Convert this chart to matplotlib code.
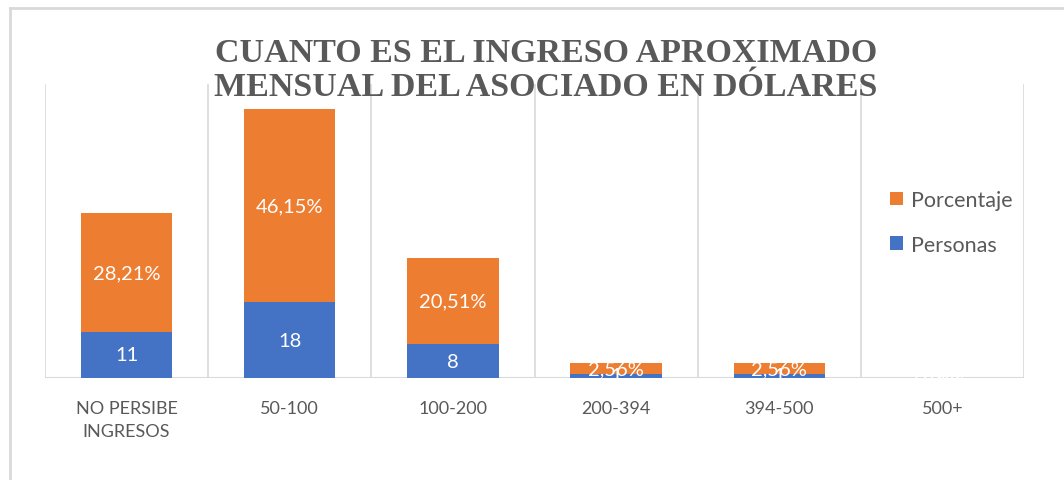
import matplotlib
matplotlib.use("Agg")
import matplotlib.pyplot as plt
from matplotlib.lines import Line2D
import numpy as np

plt.rcParams['font.family'] = ['Lato', 'DejaVu Sans']

categorias = ["NO PERSIBE\nINGRESOS", "50-100", "100-200", "200-394", "394-500", "500+"]
personas = [11, 18, 8, 1, 1, 0]
porcentaje = [28.21, 46.15, 20.51, 2.56, 2.56, 0.00]

azul = "#4472C4"
naranja = "#ED7D31"
gris = "#595959"
linea = "#D9D9D9"

fig = plt.figure(figsize=(10.64, 4.81), dpi=100)
ax = fig.add_axes([0.0423, 0.2121, 0.9201, 0.6112])

x = np.arange(len(categorias))
ax.bar(x, personas, width=0.56, color=azul, label="Personas", zorder=2)
ax.bar(x, porcentaje, width=0.56, bottom=personas, color=naranja, label="Porcentaje", zorder=2)

# etiquetas de datos
for i in range(len(x)):
    ax.text(x[i], personas[i] / 2, str(personas[i]), ha="center", va="center",
            color="white", fontsize=14.5, zorder=3)
    txt = "{:.2f}%".format(porcentaje[i]).replace(".", ",")
    ax.text(x[i], personas[i] + porcentaje[i] / 2, txt, ha="center", va="center",
            color="white", fontsize=14.5, zorder=3)

ax.set_xlim(-0.5, len(categorias) - 0.5)
ax.set_ylim(0, 70)
for xv in np.arange(-0.5, len(categorias), 1.0):
    ax.axvline(xv, color=linea, lw=1.2, zorder=1)
ax.axhline(0, color=linea, lw=1.5, zorder=1)

for s in ax.spines.values():
    s.set_visible(False)
ax.set_yticks([])
ax.set_xticks(x)
ax.set_xticklabels(categorias, fontsize=13, color=gris, linespacing=1.5)
ax.tick_params(axis="x", length=0, pad=16)

h, l = ax.get_legend_handles_labels()
leg = fig.legend(h[::-1], l[::-1], loc="upper left", bbox_to_anchor=(0.818, 0.643),
                 frameon=False, fontsize=15.5, handlelength=0.6, handleheight=0.6,
                 handletextpad=0.4, labelspacing=1.15)
for t in leg.get_texts():
    t.set_color(gris)

fig.text(0.513, 0.853, "CUANTO ES EL INGRESO APROXIMADO\nMENSUAL DEL ASOCIADO EN DÓLARES",
         ha="center", va="center", fontsize=24.5, fontweight="bold", color=gris,
         family=["Liberation Serif", "DejaVu Serif"], linespacing=1.12)

# marco del grafico
fig.add_artist(Line2D([10 / 1064, 1.0], [1 - 9 / 481, 1 - 9 / 481], color=linea, lw=2,
                      transform=fig.transFigure))
fig.add_artist(Line2D([10 / 1064, 10 / 1064], [0.0, 1 - 9 / 481], color=linea, lw=2,
                      transform=fig.transFigure))

fig.savefig("out.png", dpi=100, facecolor="white")
